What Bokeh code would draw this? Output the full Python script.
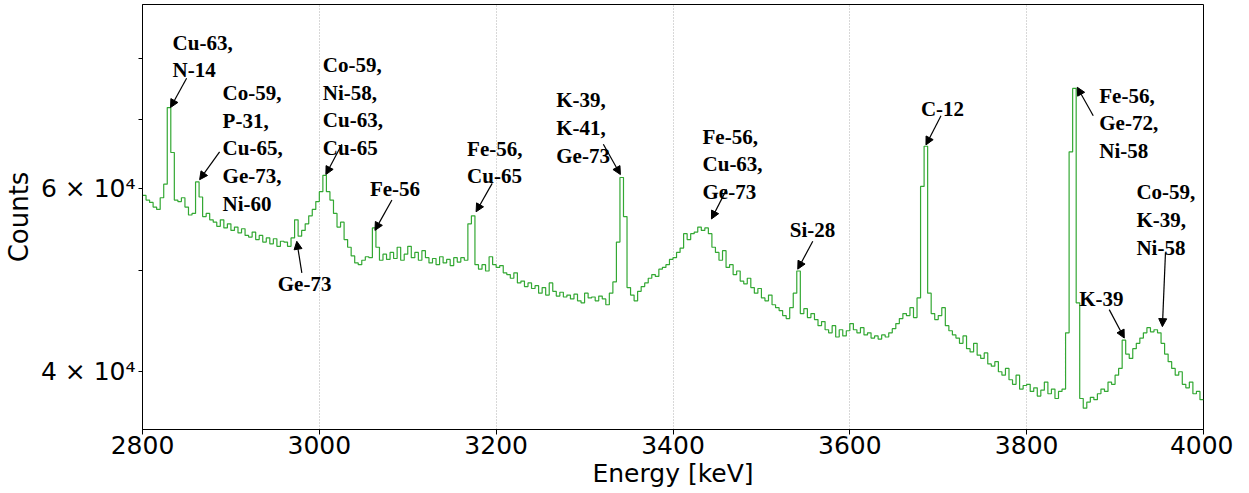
import json
import numpy as np
from bokeh.plotting import figure
from bokeh.models import (Range1d, FixedTicker, CustomJSTickFormatter, Arrow,
                          NormalHead, ColumnDataSource)
from bokeh.embed import file_html
from bokeh.resources import INLINE
from bokeh.core.properties import value

# ---------------- data ----------------
bin_start = 2800      # keV
bin_width = 4         # keV
counts = [
    59100, 58500, 58200, 57600, 57300, 58800, 60600, 71800, 65000, 58500,
    58300, 58800, 57600, 56600, 56800, 60900, 58900, 56400, 56800, 56000,
    55700, 55200, 56000, 55000, 55500, 54700, 55100, 54400, 54900, 54100,
    53900, 54500, 53600, 54100, 53300, 53800, 53100, 53700, 52800, 53400,
    53300, 52800, 53800, 56000, 54000, 54700, 55500, 56500, 57300, 58300,
    59600, 61800, 59600, 58500, 56800, 55100, 55700, 53600, 52700, 51700,
    50900, 50700, 51200, 51600, 51500, 55000, 52700, 51200, 51900, 51300,
    52100, 51400, 52700, 51200, 51900, 52800, 51500, 52100, 51200, 52300,
    51500, 50900, 51400, 50700, 51600, 50900, 51300, 50600, 51500, 51000,
    51500, 51200, 55500, 56500, 50700, 50200, 50700, 50000, 51600, 50700,
    50400, 50600, 49800, 49600, 49200, 49800, 48700, 48900, 48300, 48700,
    48100, 48400, 47600, 48200, 47400, 48700, 47800, 47300, 47700, 47200,
    47400, 47000, 47500, 46800, 46600, 47600, 47100, 47200, 46800, 47300,
    47000, 46400, 47600, 48800, 53300, 61500, 56400, 48200, 47400, 46800,
    47800, 48300, 48700, 49200, 49600, 49400, 50200, 50400, 50700, 51300,
    51500, 52100, 52600, 54300, 53600, 54300, 54500, 55100, 54700, 55000,
    54300, 52700, 52100, 51200, 52300, 50400, 50700, 49600, 50000, 48900,
    48600, 49200, 48200, 47600, 48100, 47100, 46800, 47400, 46400, 46100,
    45800, 45300, 45000, 46100, 47600, 50000, 45500, 46000, 45100, 45500,
    44900, 44300, 44700, 43900, 43600, 44300, 43200, 43900, 43300, 43800,
    44500, 43900, 43600, 44100, 43400, 43600, 43100, 43300, 43000, 43400,
    43200, 43600, 44000, 44500, 45000, 45500, 45300, 46100, 45100, 47100,
    60300, 65900, 47600, 45500, 44900, 45300, 46100, 44300, 43800, 43400,
    43100, 42600, 43300, 42100, 41800, 42600, 41500, 41200, 41700, 40700,
    40500, 40900, 40000, 39700, 40300, 39300, 38900, 39700, 38500, 38800,
    38900, 38300, 38600, 37900, 38400, 39100, 38100, 38500, 37700, 38300,
    38500, 43600, 65100, 74900, 46600, 37700, 36900, 37400, 37800, 37600,
    38100, 38500, 38300, 39100, 38900, 39700, 40300, 42900, 41600, 41200,
    42100, 42600, 43100, 43600, 44100, 43700, 43900, 43600, 42600, 41600,
    40900, 40300, 39700, 40000, 38900, 38600, 39100, 38100, 38300, 37600,
]

x_ticks = [2800, 3000, 3200, 3400, 3600, 3800, 4000]
grid_ticks = [3000, 3200, 3400, 3600, 3800]
y_ticks = [40000, 50000, 60000, 70000, 80000]
y_tick_labels = {"40000": "4 × 10⁴", "60000": "6 × 10⁴"}

labels = [
    "Cu-63,\nN-14",
    "Co-59,\nP-31,\nCu-65,\nGe-73,\nNi-60",
    "Co-59,\nNi-58,\nCu-63,\nCu-65",
    "Fe-56",
    "Ge-73",
    "Fe-56,\nCu-65",
    "K-39,\nK-41,\nGe-73",
    "Fe-56,\nCu-63,\nGe-73",
    "Si-28",
    "C-12",
    "Fe-56,\nGe-72,\nNi-58",
    "Co-59,\nK-39,\nNi-58",
    "K-39",
]
label_x = [2834, 2890.6, 3004, 3057.2, 2953, 3167.1, 3268, 3433.4, 3532, 3680.4, 3882.1, 3924.1, 3859.5]
label_y = [85100, 76100, 81000, 61500, 49900, 67300, 74900, 69100, 56200, 73500, 75700, 61100, 48300]
arrow_x0 = [2849.9, 2887.2, 3025.5, 3082.1, 2980.2, 3195.5, 3321.2, 3460.6, 3558.1, 3703.1, 3875.3, 3957.0, 3893.4]
arrow_y0 = [76600, 65100, 66200, 58500, 49800, 60700, 66200, 59900, 53400, 70500, 70500, 52100, 45900]
arrow_x1 = [2831.7, 2864.6, 3007.4, 3062.9, 2974.5, 3177.3, 3340.5, 3443.5, 3541.1, 3686.1, 3857.2, 3953.5, 3910.4]
arrow_y1 = [71800, 61200, 61900, 54700, 53400, 57000, 61900, 56100, 50200, 66100, 75100, 44200, 43100]

# ---------------- figure ----------------
p = figure(width=1233, height=490, output_backend="svg", toolbar_location=None,
           y_axis_type="log", x_range=Range1d(2800, 4000), y_range=Range1d(35200, 90200),
           min_border_left=135, min_border_right=30, min_border_top=4, min_border_bottom=50)
p.background_fill_color = "white"
p.border_fill_color = "white"
p.outline_line_color = "black"
p.outline_line_width = 1

edges = bin_start + bin_width * np.arange(len(counts) + 1)
p.step(x=edges, y=counts + [counts[-1]], mode="after", line_color="#33a833", line_width=1.2)

src = ColumnDataSource(dict(x=label_x, y=label_y, text=labels))
p.text(x="x", y="y", text="text", source=src, text_font=value("Liberation Serif"),
       text_font_style="bold", text_font_size="21px", text_baseline="top",
       text_align="left", text_line_height=1.15, text_color="black")

asrc = ColumnDataSource(dict(x0=arrow_x0, y0=arrow_y0, x1=arrow_x1, y1=arrow_y1))
p.add_layout(Arrow(end=NormalHead(size=8, fill_color="black", line_color="black", line_width=1),
                   x_start="x0", y_start="y0", x_end="x1", y_end="y1", source=asrc,
                   line_color="black", line_width=1.2))

# grid
p.ygrid.visible = False
p.xgrid.ticker = FixedTicker(ticks=grid_ticks)
p.xgrid.grid_line_color = "#b0b0b0"
p.xgrid.grid_line_dash = "1 2"
p.xgrid.grid_line_width = 1

# x axis
p.xaxis.ticker = FixedTicker(ticks=x_ticks)
p.xaxis.axis_label = "Energy [keV]"
p.xaxis.axis_label_text_font = "DejaVu Sans"
p.xaxis.axis_label_text_font_style = "normal"
p.xaxis.axis_label_text_font_size = "25px"
p.xaxis.major_label_text_font = "DejaVu Sans"
p.xaxis.major_label_text_font_size = "25px"
p.xaxis.major_label_standoff = 1
p.xaxis.axis_label_standoff = 2
p.xaxis.major_tick_out = 5
p.xaxis.major_tick_in = 0
p.xaxis.minor_tick_out = 0
p.xaxis.minor_tick_in = 0

# y axis
p.yaxis.ticker = FixedTicker(ticks=y_ticks)
p.yaxis.formatter = CustomJSTickFormatter(
    code="const m = %s; const k = String(Math.round(tick)); return (k in m) ? m[k] : '';"
    % json.dumps(y_tick_labels, ensure_ascii=False))
p.yaxis.axis_label = "Counts"
p.yaxis.axis_label_text_font = "DejaVu Sans"
p.yaxis.axis_label_text_font_style = "normal"
p.yaxis.axis_label_text_font_size = "26px"
p.yaxis.major_label_text_font = "DejaVu Sans"
p.yaxis.major_label_text_font_size = "25px"
p.yaxis.major_label_standoff = 3
p.yaxis.axis_label_standoff = 4
p.yaxis.major_tick_out = 4
p.yaxis.major_tick_in = 0
p.yaxis.minor_tick_out = 0
p.yaxis.minor_tick_in = 0

for ax in (p.xaxis, p.yaxis):
    ax.axis_line_color = "black"
    ax.major_tick_line_color = "black"
    ax.major_label_text_color = "black"
    ax.axis_label_text_color = "black"

open("out.html", "w").write(file_html(p, INLINE))
